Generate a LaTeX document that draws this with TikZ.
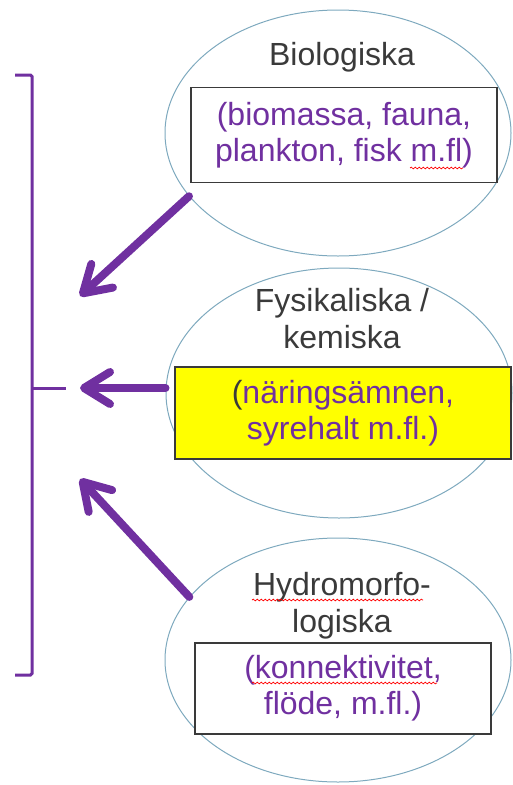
\documentclass[tikz,border=0pt]{standalone}
\usepackage{fontspec}
\setmainfont{Liberation Sans}
\usepackage{xcolor}
\usepackage{tikz}
\usetikzlibrary{arrows.meta,shapes.geometric,decorations.pathmorphing}
\definecolor{lila}{HTML}{7030A0}
\definecolor{kant}{HTML}{7EA9BE}
\definecolor{grafit}{HTML}{3A3A3A}
\definecolor{gul}{HTML}{FFFF00}

\begin{document}
\begin{tikzpicture}[x=1pt,y=-1pt,>={Straight Barb[length=26pt,width=32pt,round]}]

		\tikzstyle{oval}=[ellipse,draw=kant,line width=1pt,minimum width=346pt,inner sep=0pt]
		\tikzstyle{titel}=[align=center,text=grafit,font=\fontsize{32}{37}\selectfont]
		\tikzstyle{ruta}=[draw=grafit,line width=1.2pt,align=center,text=lila,font=\fontsize{32}{36}\selectfont]
		\tikzstyle{pil}=[->,draw=lila,line width=8pt,line cap=round]
		\tikzstyle{stav}=[red,line width=0.7pt,decorate,decoration={snake,amplitude=0.9pt,segment length=4pt}]

		\useasboundingbox (0,0) rectangle (512,785);

		% ovaler
		\node[oval,minimum height=246pt] (bio) at (338,133) {};
		\node[oval,minimum height=250pt] (fys) at (339,393) {};
		\node[oval,minimum height=244pt] (hyd) at (338,660) {};

		% rubriker
		\node[titel,anchor=base] (bioTitel) at (342,65) {Biologiska};
		\node[titel] (fysTitel) at (342,319) {Fysikaliska /\\kemiska};
		\node[titel] (hydTitel) at (342,606) {Hydromorfo-\\logiska};

		% rutor
		\node[ruta,fill=white,minimum width=306pt,minimum height=95pt] (bioRuta) at (344,135)
			{(biomassa, fauna,\\plankton, fisk m.fl)};
		\node[ruta,fill=gul,minimum width=336pt,minimum height=92pt] (fysRuta) at (343,413)
			{{\color{grafit}(}näringsämnen,\\syrehalt m.fl.)};
		\node[ruta,fill=white,minimum width=296pt,minimum height=91pt] (hydRuta) at (343,688.5)
			{(konnektivitet,\\flöde, m.fl.)};

		% klammer
		\coordinate (topp) at (15,75);
		\coordinate (botten) at (15,675);
		\coordinate (mitt) at (66,388);
		\draw[lila,line width=3pt,rounded corners=1.5pt] (topp) -- (32,75) -- (32,675) -- (botten);
		\draw[lila,line width=3pt] (32,388) -- (mitt);

		\coordinate (bioSpets) at (80,296);
		\coordinate (fysSpets) at (80,388);
		\coordinate (hydSpets) at (80,479);

		\path 	(bio.203) edge[pil] (bioSpets)
				(fys.west |- fysSpets) edge[pil] (fysSpets)
				(hyd.157) edge[pil] (hydSpets);

		% stavning
		\draw[stav] (410,168) -- (463,168);
		\draw[stav] (252,600) -- (423,600);
		\draw[stav] (252,683) -- (437,683);

	\end{tikzpicture}
\end{document}
